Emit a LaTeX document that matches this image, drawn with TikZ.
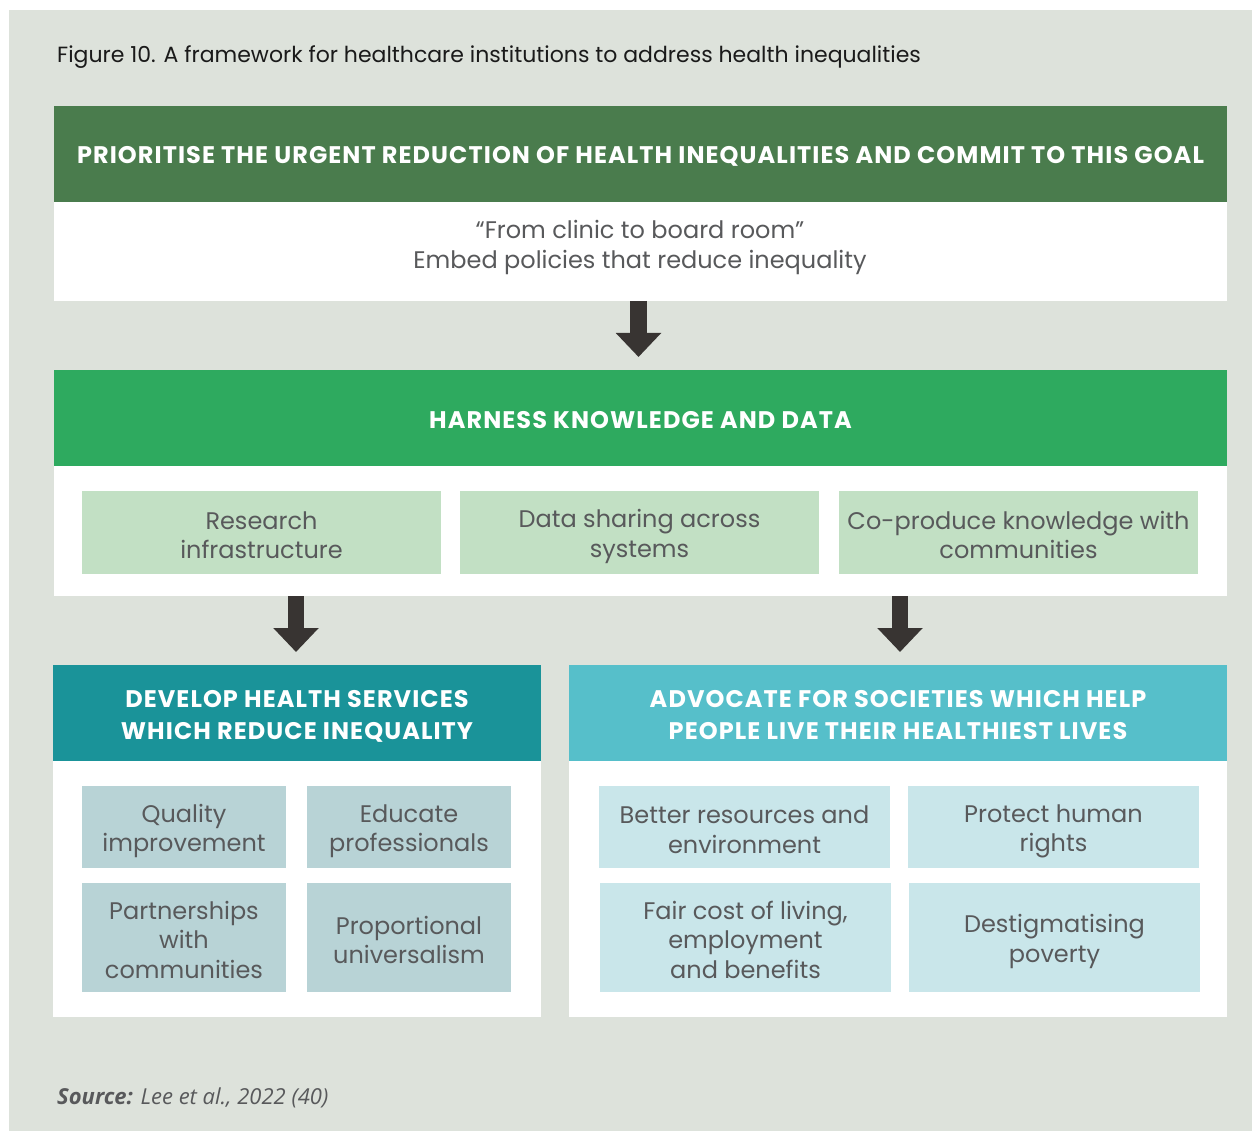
\documentclass[tikz,border=0pt]{standalone}
\usepackage{fontspec}
\setmainfont{Poppins}
\newfontfamily\srcfont{Open Sans}
\usetikzlibrary{arrows.meta}
\definecolor{bggray}{HTML}{DDE2DB}
\definecolor{darkgreen}{HTML}{4A7C4D}
\definecolor{brightgreen}{HTML}{2EAA5F}
\definecolor{lightgreen}{HTML}{C2E0C4}
\definecolor{darkteal}{HTML}{1A9399}
\definecolor{lightteal}{HTML}{56BFCA}
\definecolor{greyblue}{HTML}{B8D3D6}
\definecolor{palecyan}{HTML}{C9E6EA}
\definecolor{arrowgray}{HTML}{383432}
\definecolor{txtgray}{HTML}{58595B}
\definecolor{titleblack}{HTML}{1A1A1A}
\newcommand\istr{\rule[-3.5pt]{0pt}{29.5pt}}
\newcommand\hstr{\rule[-6pt]{0pt}{32pt}}
\newcommand\nolsl{\lineskiplimit=-50pt\relax}
\newcommand\headfont{\fontsize{24}{32}\selectfont\nolsl\bfseries\addfontfeatures{LetterSpace=4.5}}
\newcommand\itemfont{\fontsize{24}{29.5}\selectfont\nolsl}
\tikzset{
  panel/.style={anchor=north west, inner sep=0pt, outer sep=0pt},
  headbox/.style={panel, text=white, align=center, font=\headfont},
  whitebox/.style={panel, fill=white},
  itembox/.style={panel, text=txtgray, align=center, font=\itemfont},
  bigarrow/.style={draw=arrowgray, line width=16.5pt, -{Triangle[width=44pt,length=24pt]}, shorten >=13pt}
}
\begin{document}
\begin{tikzpicture}[x=1pt,y=-1pt]
\useasboundingbox (0,0) rectangle (1252,1131);
\fill[bggray] (9,10) rectangle (1252,1131);
% title
\node[anchor=base west, inner sep=0pt, text=titleblack, font=\fontsize{22}{24}\selectfont] (title) at (57,63) {Figure 10. A framework for healthcare institutions to address health inequalities};
% top block
\node[headbox, fill=darkgreen, minimum width=1173pt, minimum height=96pt] (h1) at (54,106) {\hstr PRIORITISE THE URGENT REDUCTION OF HEALTH INEQUALITIES AND COMMIT TO THIS GOAL\hstr};
\node[whitebox, minimum width=1173pt, minimum height=99pt] (w1) at (54,202) {};
\node[text=txtgray, align=center, font=\fontsize{24}{30}\selectfont] (q1) at (640,247) {“From clinic to board room”\\Embed policies that reduce inequality};
% second block
\node[headbox, fill=brightgreen, minimum width=1173pt, minimum height=96pt] (h2) at (54,370) {\hstr HARNESS KNOWLEDGE AND DATA\hstr};
\node[whitebox, minimum width=1173pt, minimum height=130pt] (w2) at (54,466) {};
\node[itembox, fill=lightgreen, minimum width=359pt, minimum height=83pt] (k1) at (82,491) {\istr Research\\infrastructure\istr};
\node[itembox, fill=lightgreen, minimum width=359pt, minimum height=83pt] (k2) at (460,491) {\istr Data sharing across\\systems\istr};
\node[itembox, fill=lightgreen, minimum width=359pt, minimum height=83pt] (k3) at (839,491) {\istr Co-produce knowledge with\\communities\istr};
% lower left block
\node[headbox, fill=darkteal, minimum width=488pt, minimum height=96pt] (h3) at (53,665) {\hstr DEVELOP HEALTH SERVICES\\WHICH REDUCE INEQUALITY\hstr};
\node[whitebox, minimum width=488pt, minimum height=256pt] (w3) at (53,761) {};
\node[itembox, fill=greyblue, minimum width=204pt, minimum height=82pt] (d1) at (82,786) {\istr Quality\\improvement\istr};
\node[itembox, fill=greyblue, minimum width=204pt, minimum height=82pt] (d2) at (307,786) {\istr Educate\\professionals\istr};
\node[itembox, fill=greyblue, minimum width=204pt, minimum height=109pt] (d3) at (82,883) {\istr Partnerships\\with\\communities\istr};
\node[itembox, fill=greyblue, minimum width=204pt, minimum height=109pt] (d4) at (307,883) {\istr Proportional\\universalism\istr};
% lower right block
\node[headbox, fill=lightteal, minimum width=658pt, minimum height=96pt] (h4) at (569,665) {\hstr ADVOCATE FOR SOCIETIES WHICH HELP\\PEOPLE LIVE THEIR HEALTHIEST LIVES\hstr};
\node[whitebox, minimum width=658pt, minimum height=256pt] (w4) at (569,761) {};
\node[itembox, fill=palecyan, minimum width=291pt, minimum height=82pt] (a1) at (599,786) {\istr Better resources and\\environment\istr};
\node[itembox, fill=palecyan, minimum width=291pt, minimum height=82pt] (a2) at (908,786) {\istr Protect human\\rights\istr};
\node[itembox, fill=palecyan, minimum width=291pt, minimum height=109pt] (a3) at (600,883) {\istr Fair cost of living,\\employment\\and benefits\istr};
\node[itembox, fill=palecyan, minimum width=291pt, minimum height=109pt] (a4) at (909,883) {\istr Destigmatising\\poverty\istr};
% arrows
\coordinate (a1s) at (638.5,301);
\coordinate (a2s) at (296,596);
\coordinate (a3s) at (900,596);
\draw[bigarrow] (a1s) -- (a1s |- h2.north);
\draw[bigarrow] (a2s) -- (a2s |- h3.north);
\draw[bigarrow] (a3s) -- (a3s |- h4.north);
% source
\node[anchor=base west, inner sep=0pt, text=txtgray, font=\srcfont\fontsize{22}{24}\selectfont\itshape] (src) at (57,1104) {\textbf{Source:} Lee et al., 2022 (40)};
\end{tikzpicture}
\end{document}
